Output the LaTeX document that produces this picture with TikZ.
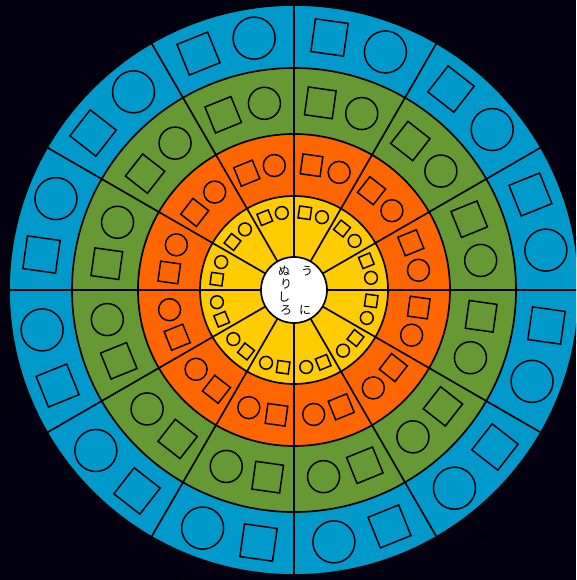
\documentclass[tikz,border=0pt]{standalone}
\usepackage{fontspec}
\newfontfamily\jp{Noto Sans CJK JP}
\definecolor{bgc}{HTML}{03010F}
\definecolor{ringblue}{HTML}{0099CC}
\definecolor{ringgreen}{HTML}{669933}
\definecolor{ringorange}{HTML}{FF6600}
\definecolor{ringyellow}{HTML}{FFCC00}
\begin{document}
\begin{tikzpicture}[x=1pt,y=1pt,
  ringline/.style={draw=black,line width=1.7pt},
  shp/.style={draw=black,line width=1.5pt},
  tag/.style={draw=black,line width=0.8pt},
  glyph/.style={font=\jp\fontsize{12}{12}\selectfont,inner sep=0pt,text=black}]
\useasboundingbox (-294,-290) rectangle (282,290);
\clip (-294,-290) rectangle (282,290);
\fill[bgc] (-294,-290) rectangle (282,290);
% faint outer tags
\foreach \a in {15,45,...,345}
  \draw[tag,rotate=\a] (286,-40) rectangle (310,40);
% rings
\filldraw[fill=ringblue,ringline] (0,0) circle (285);
\filldraw[fill=ringgreen,ringline] (0,0) circle (222);
\filldraw[fill=ringorange,ringline] (0,0) circle (156);
\filldraw[fill=ringyellow,ringline] (0,0) circle (94);
% spokes
\foreach \a in {0,30,...,330}
  \draw[ringline] (\a:33) -- (\a:285);
\filldraw[fill=white,ringline] (0,0) circle (33);
% shapes
\foreach \r/\cr/\s in {255/21/33, 189/16/28, 126/11/20, 78/6.4/12}{
  \foreach \a in {0,30,...,330}{
    \draw[shp] (\a+9:\r) circle (\cr);
    \draw[shp,shift={(\a+22:\r)},rotate=\a+22] (-\s/2,-\s/2) rectangle (\s/2,\s/2);
  }
}
% centre text
\node[glyph] (g1) at (13,19) {う};
\node[glyph] (g2) at (11,-20) {に};
\node[glyph] (g3) at (-10,19) {ぬ};
\node[glyph] (g4) at (-8,6) {り};
\node[glyph] (g5) at (-10,-7) {し};
\node[glyph] (g6) at (-8,-20) {ろ};
\end{tikzpicture}
\end{document}
